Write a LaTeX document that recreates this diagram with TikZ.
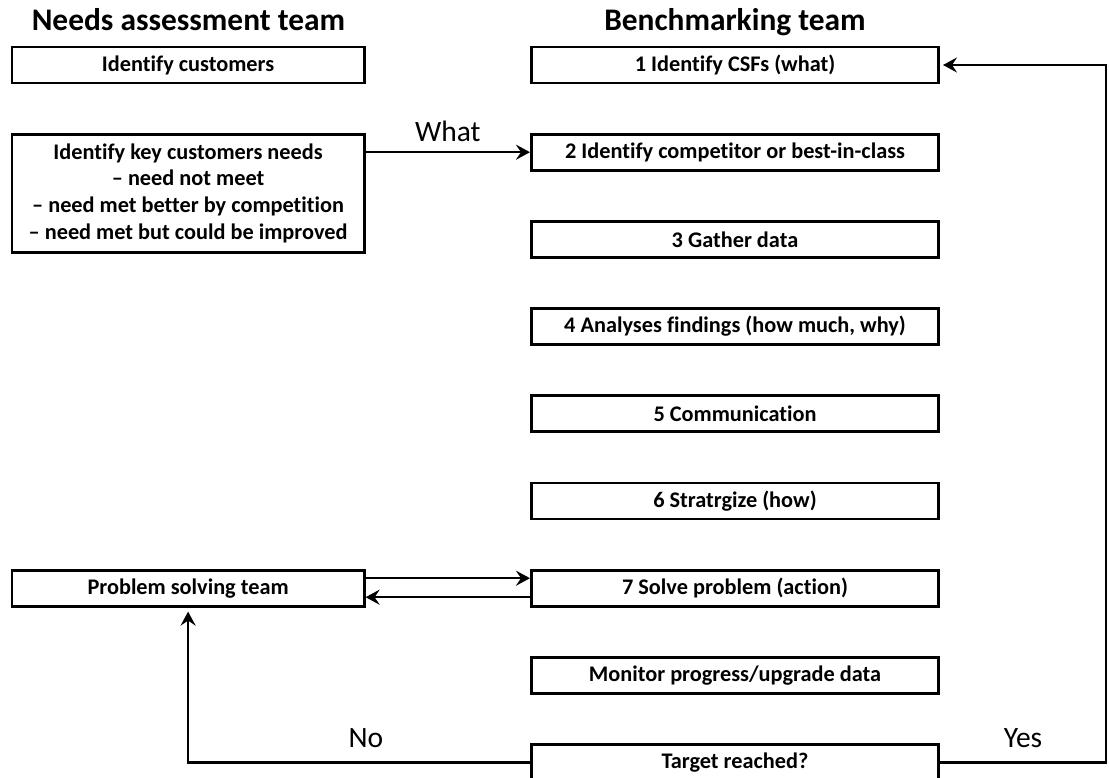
\documentclass[tikz,border=0pt]{standalone}
\usepackage{fontspec}
\setmainfont{Carlito}[Ligatures={TeX,NoCommon}]
\usetikzlibrary{positioning,arrows.meta}

\begin{document}
\begin{tikzpicture}[x=1pt, y=-1pt, node distance=48.4pt and 164.4pt, >={Stealth[length=14pt,width=15pt,inset=5pt]}, line width=2.4pt,
  box/.style={draw, line width=2.8pt, minimum height=36pt, inner sep=2pt, align=center, font=\bfseries\fontsize{22.3}{26.7}\selectfont},
  rbox/.style={box, minimum width=407.2pt},
  lbox/.style={box, minimum width=352.2pt},
  head/.style={anchor=base, font=\bfseries\fontsize{31.4}{36}\selectfont},
  lbl/.style={font=\fontsize{29.5}{34}\selectfont}]
  \useasboundingbox (0,0) rectangle (1109,778);

  \node[head] (nahead) at (188.5,31) {Needs assessment team};
  \node[head] (bmhead) at (735,31) {Benchmarking team};

  \node[rbox] (s1) at (735,65) {1 Identify CSFs (what)};
  \node[rbox, below=of s1] (s2) {2 Identify competitor or best-in-class};
  \node[rbox, below=of s2] (s3) {3 Gather data};
  \node[rbox, below=of s3] (s4) {4 Analyses findings (how much, why)};
  \node[rbox, below=of s4] (s5) {5 Communication};
  \node[rbox, below=of s5] (s6) {6 Stratrgize (how)};
  \node[rbox, below=of s6] (s7) {7 Solve problem (action)};
  \node[rbox, below=of s7] (monitor) {Monitor progress/upgrade data};
  \node[rbox, below=of monitor] (target) {Target reached?};

  \node[lbox, left=of s1] (cust) {Identify customers};
  \node[lbox, below=of cust, minimum height=118pt] (needs) {Identify key customers needs\\-- need not meet\\-- need met better by competition\\-- need met but could be improved};
  \node[lbox, left=of s7] (prob) {Problem solving team};

  \draw[->] (needs.east |- s2) -- node[lbl, above=6pt] {What} (s2.west);
  \draw[->] ([yshift=10pt]prob.east) -- ([yshift=10pt]s7.west);
  \draw[->] ([yshift=-9pt]s7.west) -- ([yshift=-9pt]prob.east);
  \draw[->, shorten >=4pt] (target.west) -| node[lbl, above=10pt, pos=0.24] {No} (prob.south);
  \draw[->, shorten >=3pt] (target.east) -- node[lbl, above=10pt] {Yes} ++(166,0) |- (s1.east);
\end{tikzpicture}
\end{document}
